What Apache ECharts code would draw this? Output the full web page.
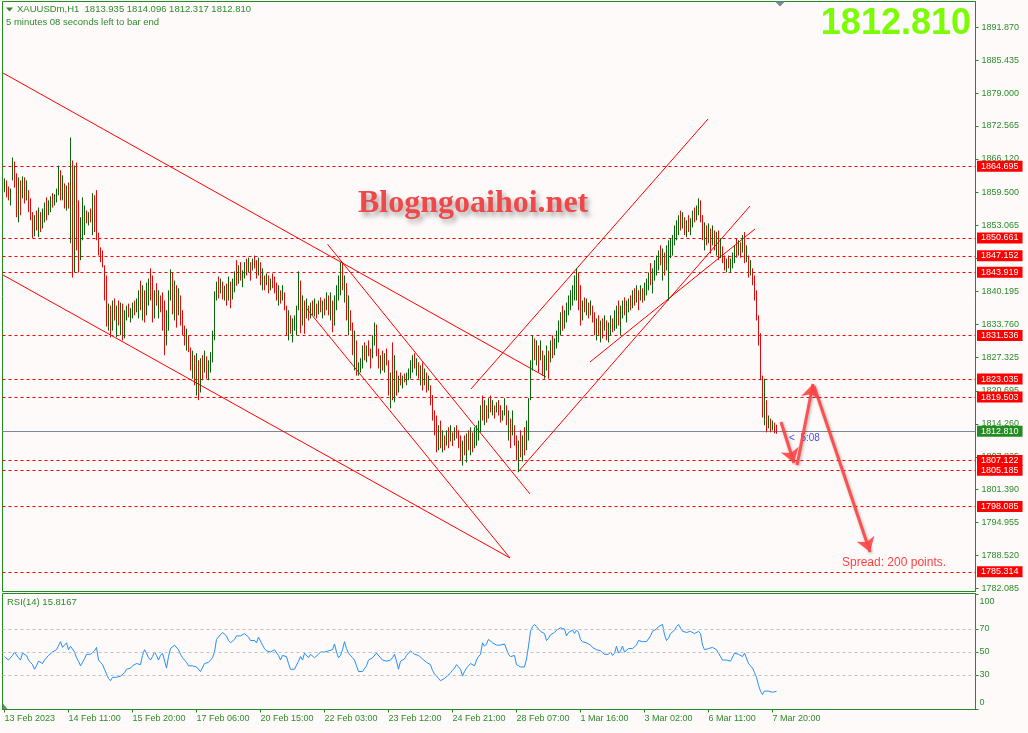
<!DOCTYPE html>
<html><head><meta charset="utf-8">
<script src="https://cdn.jsdelivr.net/npm/echarts@6/dist/echarts.min.js"></script>
<style>html,body{margin:0;padding:0;background:#fffafa}#c{width:1028px;height:733px}</style>
</head><body><div id="c"></div>
<script>
// ---------------- DATA ----------------
const highs = [
1862.3,1861.9,1860.7,1860.3,1866.4,1865.6,1863.3,1862.5,1861.9,1862.7,
1862.5,1861.9,1860.0,1858.4,1855.7,1855.1,1856.0,1856.6,1855.7,1856.4,
1857.6,1858.6,1858.0,1858.8,1859.4,1859.2,1860.3,1864.8,1863.9,1862.9,
1861.3,1860.9,1861.5,1870.3,1865.8,1864.8,1865.4,1858.0,1854.7,1858.6,
1857.0,1856.0,1855.7,1856.4,1859.4,1859.0,1860.0,1851.7,1848.8,1848.2,
1845.3,1843.3,1837.8,1837.4,1838.4,1838.8,1837.4,1838.4,1838.0,1837.8,
1836.5,1837.4,1837.8,1836.9,1838.0,1838.4,1838.8,1840.4,1842.3,1841.4,
1840.4,1841.9,1842.7,1844.7,1843.3,1840.4,1841.8,1840.4,1839.4,1840.0,
1838.4,1836.5,1840.4,1844.5,1843.9,1842.3,1841.4,1840.8,1839.4,1836.5,
1833.5,1832.9,1831.6,1829.2,1828.6,1827.7,1828.1,1826.7,1827.1,1827.7,
1828.6,1827.5,1826.7,1828.3,1832.5,1840.2,1842.1,1843.1,1842.7,1842.1,
1841.3,1841.7,1843.1,1842.1,1842.7,1844.1,1846.3,1845.3,1845.9,1844.3,
1845.9,1846.6,1846.8,1845.9,1846.6,1847.2,1846.3,1846.8,1845.9,1844.7,
1843.3,1843.7,1843.3,1842.7,1843.7,1843.1,1841.9,1841.4,1840.4,1841.4,
1840.0,1837.4,1836.5,1835.5,1834.9,1835.5,1837.4,1844.1,1842.3,1839.4,
1838.4,1838.8,1837.4,1838.0,1838.4,1838.8,1837.8,1838.4,1839.0,1838.4,
1838.8,1840.0,1839.4,1840.0,1838.4,1839.4,1841.4,1843.3,1845.9,1845.9,
1843.3,1841.8,1839.4,1836.5,1834.1,1832.5,1830.6,1826.3,1827.1,1829.6,
1830.2,1829.6,1830.6,1829.0,1831.6,1834.1,1833.7,1829.0,1827.7,1828.6,
1828.1,1829.0,1826.7,1824.3,1830.2,1827.7,1824.7,1823.7,1824.3,1823.7,
1824.1,1824.3,1825.1,1826.7,1827.7,1828.1,1827.1,1826.3,1825.7,1826.3,
1825.1,1824.3,1823.7,1821.8,1819.9,1816.9,1815.9,1814.0,1814.9,1813.0,
1812.0,1813.0,1813.6,1814.0,1812.6,1813.6,1814.0,1813.0,1812.0,1811.0,
1812.0,1812.4,1813.0,1813.6,1812.6,1813.6,1814.0,1814.9,1817.9,1819.8,
1818.9,1817.9,1819.3,1819.8,1818.9,1817.9,1818.5,1818.9,1817.9,1816.9,
1819.3,1817.9,1816.9,1815.3,1816.9,1814.0,1812.0,1811.0,1813.0,1812.0,
1813.6,1814.9,1819.3,1826.7,1831.6,1831.0,1830.6,1829.6,1830.6,1828.6,
1827.7,1829.6,1828.6,1830.6,1831.6,1831.0,1832.5,1834.5,1836.1,1837.4,
1836.5,1838.0,1839.4,1840.4,1841.4,1843.3,1844.7,1843.9,1841.4,1838.4,
1839.0,1838.8,1838.0,1838.4,1837.4,1836.1,1834.9,1835.5,1834.5,1834.9,
1835.5,1834.5,1834.1,1835.5,1834.9,1836.5,1837.4,1838.4,1837.4,1838.4,
1839.0,1838.4,1838.8,1839.4,1840.4,1840.8,1841.4,1840.4,1841.4,1840.8,
1841.9,1842.7,1843.9,1845.7,1844.7,1846.3,1847.2,1848.2,1849.2,1848.6,
1847.8,1849.2,1850.2,1850.6,1851.2,1853.1,1854.1,1855.1,1856.0,1855.7,
1854.7,1854.1,1855.1,1854.5,1856.0,1856.6,1857.0,1858.4,1858.0,1855.1,
1853.7,1853.1,1853.5,1852.5,1853.1,1852.1,1851.8,1852.1,1850.6,1849.0,
1847.2,1846.6,1847.2,1846.6,1847.8,1849.2,1850.6,1850.2,1849.8,1851.2,
1851.8,1849.2,1847.2,1846.3,1844.7,1843.3,1840.4,1835.5,1832.0,1823.7,
1823.1,1818.9,1815.9,1815.3,1814.9,1814.5,1814.096];
const lows = [
1859.6,1858.6,1858.0,1857.0,1861.9,1860.5,1854.7,1853.7,1855.1,1858.4,
1857.4,1858.0,1855.7,1854.1,1850.6,1851.0,1852.1,1850.8,1851.8,1852.5,
1853.7,1854.1,1855.1,1855.7,1856.6,1857.0,1857.6,1859.0,1858.0,1858.0,
1856.4,1856.0,1856.4,1849.6,1842.9,1843.9,1848.2,1843.9,1846.3,1850.2,
1851.2,1853.5,1853.1,1853.7,1851.2,1851.8,1850.2,1847.2,1845.9,1844.9,
1838.4,1833.3,1832.5,1831.2,1832.5,1834.5,1831.2,1833.5,1831.6,1830.6,
1831.0,1834.5,1835.1,1834.1,1834.9,1835.5,1836.1,1834.9,1836.5,1834.5,
1834.1,1835.5,1837.4,1838.4,1834.1,1834.9,1837.4,1834.9,1836.1,1832.5,
1827.7,1829.6,1832.5,1838.4,1835.7,1834.5,1833.1,1835.5,1833.5,1831.6,
1829.6,1828.6,1828.3,1824.7,1823.1,1821.8,1819.8,1818.9,1820.4,1822.8,
1824.3,1823.1,1822.8,1824.3,1826.3,1830.6,1838.4,1838.8,1839.8,1838.6,
1838.4,1837.4,1838.4,1836.9,1838.6,1840.0,1841.3,1841.7,1842.3,1841.0,
1842.7,1843.3,1843.9,1842.3,1844.3,1844.7,1842.7,1843.3,1841.4,1840.4,
1840.4,1841.4,1839.8,1840.4,1840.8,1839.8,1838.4,1837.4,1837.8,1838.4,
1836.5,1831.6,1830.6,1831.9,1830.2,1832.5,1831.6,1836.5,1832.0,1833.5,
1831.9,1834.9,1834.5,1834.9,1835.5,1835.3,1834.9,1835.7,1836.1,1834.9,
1835.5,1836.5,1835.5,1834.5,1832.2,1833.5,1836.5,1838.4,1839.4,1840.4,
1838.0,1834.5,1831.6,1832.5,1827.7,1824.7,1823.7,1823.7,1824.3,1825.1,
1826.7,1826.3,1827.5,1825.1,1827.1,1829.6,1827.5,1825.1,1824.1,1824.7,
1824.3,1825.7,1819.8,1817.3,1818.9,1818.5,1819.8,1820.4,1821.8,1821.2,
1822.4,1821.8,1822.8,1823.1,1824.3,1825.1,1823.7,1823.1,1821.8,1820.8,
1821.8,1820.4,1820.8,1817.9,1814.9,1812.0,1808.7,1809.1,1809.5,1808.7,
1809.1,1810.0,1809.5,1810.8,1809.9,1811.0,1811.4,1809.5,1807.1,1806.1,
1808.1,1806.7,1809.1,1808.1,1808.7,1809.5,1810.0,1811.0,1812.6,1814.9,
1814.0,1814.5,1815.3,1816.5,1815.9,1815.3,1816.5,1815.9,1814.5,1814.9,
1815.9,1814.0,1811.0,1809.5,1812.0,1810.0,1807.1,1804.8,1807.7,1806.9,
1808.1,1809.1,1811.0,1818.9,1824.7,1826.7,1825.7,1824.3,1826.7,1823.7,
1823.1,1824.7,1823.1,1826.3,1827.1,1827.7,1829.0,1830.2,1831.6,1832.5,
1832.9,1834.1,1835.5,1836.5,1837.4,1838.4,1838.4,1836.5,1833.5,1834.5,
1836.1,1835.5,1834.9,1835.5,1834.1,1831.6,1830.6,1831.6,1830.2,1831.0,
1832.5,1830.6,1830.2,1831.6,1832.2,1832.5,1832.9,1833.5,1831.6,1834.9,
1835.5,1834.1,1836.1,1836.5,1836.9,1837.4,1838.0,1836.5,1838.4,1838.0,
1838.4,1839.4,1840.4,1841.4,1839.8,1842.3,1843.3,1844.3,1845.3,1842.3,
1843.3,1844.3,1838.4,1846.7,1847.2,1849.2,1850.2,1851.2,1852.1,1852.5,
1851.2,1850.8,1851.8,1851.2,1852.7,1853.7,1854.1,1855.1,1853.7,1850.2,
1848.2,1849.2,1849.6,1847.6,1849.2,1848.2,1847.2,1846.3,1846.7,1845.7,
1844.3,1843.9,1844.7,1843.9,1844.7,1845.7,1846.8,1847.2,1846.8,1847.8,
1845.7,1845.9,1842.9,1843.3,1841.4,1838.4,1834.5,1829.6,1822.8,1815.5,
1814.0,1812.6,1813.4,1812.6,1813.0,1812.4,1812.317];
const closes = [
1861.0,1859.2,1858.9,1859.8,1865.2,1861.3,1856.0,1860.9,1860.0,1861.5,
1858.5,1860.2,1856.3,1855.0,1851.9,1853.6,1852.9,1855.4,1853.0,1855.2,
1856.8,1855.6,1857.4,1858.1,1857.5,1858.7,1859.9,1863.6,1859.3,1861.8,
1857.2,1859.6,1857.8,1863.5,1845.0,1862.7,1850.1,1847.0,1852.6,1854.0,
1855.3,1854.1,1855.2,1854.5,1858.2,1853.1,1851.4,1848.1,1846.7,1845.6,
1839.7,1834.6,1836.9,1832.4,1837.5,1835.8,1836.2,1834.3,1837.1,1831.8,
1835.6,1836.8,1835.9,1836.3,1837.2,1836.4,1838.0,1839.6,1837.2,1840.5,
1835.0,1841.0,1842.0,1839.5,1835.2,1839.6,1838.1,1839.0,1837.0,1833.6,
1829.5,1835.8,1839.8,1843.1,1836.8,1841.0,1834.2,1839.5,1834.6,1832.4,
1830.5,1831.7,1829.0,1825.6,1827.4,1822.9,1826.8,1819.7,1826.2,1823.6,
1827.9,1824.0,1825.9,1827.4,1831.2,1839.4,1841.2,1839.6,1841.9,1839.5,
1840.6,1838.2,1842.4,1837.8,1841.9,1843.4,1842.2,1844.6,1843.1,1843.5,
1845.1,1844.0,1846.1,1843.2,1845.8,1845.3,1843.6,1846.0,1842.3,1843.8,
1841.2,1842.9,1840.7,1842.1,1841.5,1840.2,1839.0,1840.6,1838.5,1840.3,
1837.2,1832.8,1835.4,1832.6,1833.8,1834.7,1836.6,1838.0,1834.1,1838.6,
1833.0,1837.7,1835.2,1837.3,1836.2,1838.0,1835.8,1837.6,1836.9,1837.9,
1836.4,1839.2,1836.3,1839.1,1833.4,1838.7,1840.8,1842.6,1845.0,1841.2,
1842.5,1835.6,1838.2,1833.4,1828.9,1831.4,1824.8,1825.9,1826.5,1828.8,
1827.5,1828.9,1828.3,1828.2,1830.9,1833.2,1828.6,1826.2,1827.1,1825.6,
1827.5,1826.4,1821.0,1823.6,1820.2,1822.9,1821.3,1823.1,1822.6,1823.3,
1823.0,1824.0,1824.6,1826.0,1827.2,1825.9,1826.5,1824.0,1825.2,1821.9,
1824.5,1821.2,1822.6,1818.6,1815.8,1812.9,1810.1,1813.2,1810.3,1812.1,
1810.2,1812.4,1810.6,1813.3,1811.2,1812.8,1812.0,1810.4,1808.0,1810.2,
1808.9,1811.5,1810.0,1812.8,1809.6,1812.9,1813.4,1814.2,1817.0,1815.6,
1818.1,1815.2,1818.8,1817.2,1818.0,1816.2,1817.9,1816.4,1815.1,1816.5,
1818.6,1814.6,1815.8,1810.4,1815.9,1810.8,1808.2,1810.1,1808.5,1811.3,
1809.4,1814.0,1818.6,1826.0,1830.8,1827.6,1829.9,1825.1,1829.8,1824.6,
1826.9,1828.8,1824.0,1829.9,1828.0,1830.4,1831.8,1833.9,1835.3,1833.6,
1835.9,1837.2,1838.8,1839.7,1840.6,1842.5,1843.8,1837.4,1835.0,1837.6,
1836.8,1838.1,1835.7,1837.3,1834.8,1832.5,1833.9,1832.3,1833.8,1832.0,
1834.8,1831.5,1833.6,1834.9,1833.0,1835.8,1836.5,1834.2,1836.9,1837.7,
1836.2,1837.8,1838.3,1837.2,1839.9,1838.1,1840.7,1839.0,1840.2,1839.3,
1841.3,1842.0,1843.1,1842.4,1844.0,1845.6,1846.5,1847.4,1846.0,1847.9,
1844.4,1848.6,1849.5,1850.0,1850.6,1852.4,1853.5,1854.3,1853.0,1854.9,
1852.0,1853.4,1852.6,1854.0,1855.5,1854.4,1856.3,1857.6,1854.8,1851.0,
1852.9,1850.0,1852.7,1848.5,1852.4,1849.0,1851.1,1847.2,1849.8,1846.5,
1845.0,1846.0,1845.3,1846.1,1847.3,1848.8,1847.6,1849.7,1848.0,1850.7,
1846.6,1848.3,1843.8,1845.2,1842.0,1839.1,1835.2,1830.4,1823.9,1816.7,
1820.6,1813.8,1815.4,1814.2,1814.5,1813.9,1812.810];
const firstOpen = 1860.4;
const rsi = [
46,45,43,43,47,50,51,45,43,49,
50,47,43,41,39,35,38,42,41,40,
43,45,47,48,50,51,52,53,59,54,
56,58,52,55,54,50,45,42,38,41,
44,48,47,48,49,51,54,43,41,39,
35,31,27,25,28,29,28,28,29,30,
32,35,36,36,38,39,40,40,39,47,
52,49,45,43,46,50,47,43,47,49,
49,36,46,53,53,56,55,52,48,45,
43,41,38,38,38,37,37,36,33,34,
40,41,41,42,45,50,61,63,65,67,
66,64,60,58,59,61,64,64,64,64,
66,67,63,60,61,60,58,63,62,56,
53,51,50,50,51,52,53,47,43,47,
47,46,40,35,35,35,34,42,46,43,
49,48,45,48,48,45,46,48,50,51,
50,50,51,51,52,57,50,45,47,52,
59,53,49,47,45,43,38,33,33,33,
34,38,43,44,45,46,49,50,45,43,
42,42,42,43,45,48,42,35,42,42,
44,47,49,51,50,48,48,47,46,44,
43,41,40,39,34,31,29,27,25,26,
27,28,30,32,34,36,39,38,35,29,
33,36,38,40,39,38,43,46,48,58,
55,57,61,60,58,57,56,56,56,56,
57,56,48,46,47,47,39,38,37,36,
37,44,55,68,72,74,72,70,68,67,
66,60,62,65,66,67,69,70,71,71,
70,64,67,68,69,66,69,67,61,59,
58,58,57,56,54,53,52,51,51,50,
48,47,48,50,47,49,55,49,51,55,
50,50,53,53,53,54,56,60,60,59,
59,59,59,64,68,69,70,72,73,74,
65,60,62,66,67,69,72,74,73,68,
67,67,68,68,67,66,65,68,66,56,
52,51,53,54,54,53,52,49,46,43,
42,43,43,42,42,49,50,48,47,46,
49,48,40,38,36,32,28,21,16,13,
16,17,16,15,15,16,15.8167];

const priceTicks = [1891.870,1885.435,1879.000,1872.565,1866.120,1859.500,1853.065,1846.630,1840.195,
  1833.760,1827.325,1820.695,1814.260,1807.825,1801.390,1794.955,1788.520,1782.085];
const rsiTicks = [0,30,50,70,100];
const rsiLevels = [30,50,70];
const timeTickIdx = [0,32,64,96,128,160,192,224,256,288,320,352,384];
const timeTickLabels = ['13 Feb 2023','14 Feb 11:00','15 Feb 20:00','17 Feb 06:00','20 Feb 15:00','22 Feb 03:00',
  '23 Feb 12:00','24 Feb 21:00','28 Feb 07:00','1 Mar 16:00','3 Mar 02:00','6 Mar 11:00','7 Mar 20:00'];
const levels = [1864.695,1850.661,1847.152,1843.919,1831.536,1823.035,1819.503,1807.122,1805.185,1798.085,1785.314];
const bid = 1812.810;
// trend lines: [barIndex, price] pairs
const trendLines = [
  [[-0.75,1882.93],[270.75,1823.44]],
  [[-0.75,1843.40],[252.75,1788.02]],
  [[151.25,1836.74],[252.75,1788.02]],
  [[161.55,1849.40],[262.75,1800.54]],
  [[233.25,1821.09],[351.75,1873.93]],
  [[256.75,1804.85],[372.75,1856.90]],
  [[292.75,1826.37],[375.25,1852.40]]
];
const arrows = [
  [[388.25,1814.63],[394.75,1806.61]],
  [[396.25,1806.22],[404.25,1822.07]],
  [[404.75,1821.67],[432.75,1789.19]]
];
const notes = [
  {pos:[392.25,1811.5], text:'<  5:08', color:'#1414ff', size:10},
  {pos:[418.75,1787.04], text:'Spread: 200 points.', color:'#ff1010', size:12}
];

// ---------------- CHART ----------------
const GREEN = '#2a8c2a';
const FONT = 'Liberation Sans';
const barData = highs.map((h, i) => {
  const open = i ? closes[i - 1] : firstOpen;
  return [i, h, lows[i], closes[i] >= open ? 1 : 0];
});
const chart = echarts.init(document.getElementById('c'), null, {renderer: 'canvas'});
const boxLabel = (txt, bg) => ({
  show: true, position: 'end', distance: 1.5, formatter: txt,
  backgroundColor: bg, color: '#ffffff', fontFamily: FONT, fontSize: 9,
  padding: [1, 4, 1, 4], lineHeight: 9
});
const levelLines = levels.map(v => ({
  yAxis: v, lineStyle: {color: '#ff0000', type: [3, 3], width: 1},
  label: boxLabel(v.toFixed(3), '#ff0000')
}));
levelLines.push({yAxis: bid, lineStyle: {color: '#7a8899', type: 'solid', width: 1},
  label: boxLabel(bid.toFixed(3), '#228b22')});

chart.setOption({
  animation: false,
  backgroundColor: '#fffafa',
  grid: [
    {left: 2.5, top: 1.5, width: 973, height: 590, show: true, borderColor: '#228b22', borderWidth: 1, containLabel: false},
    {left: 2.5, top: 593.5, width: 973, height: 116, show: true, borderColor: '#228b22', borderWidth: 1, containLabel: false}
  ],
  xAxis: [
    {type: 'value', gridIndex: 0, min: -1, max: 485.5, show: false, axisLine: {onZero: false}},
    {type: 'value', gridIndex: 1, min: -1, max: 485.5,
      axisLine: {show: true, onZero: false, lineStyle: {color: '#228b22'}},
      axisTick: {show: true, length: 3, customValues: timeTickIdx, lineStyle: {color: '#228b22'}},
      splitLine: {show: false},
      axisLabel: {customValues: timeTickIdx, align: 'left', margin: 5, color: GREEN, fontFamily: FONT, fontSize: 9,
        formatter: v => timeTickLabels[timeTickIdx.indexOf(Math.round(v))] || ''}}
  ],
  yAxis: [
    {type: 'value', gridIndex: 0, position: 'right', min: 1781.46, max: 1896.92, scale: true,
      axisLine: {show: true, onZero: false, lineStyle: {color: '#228b22'}},
      axisTick: {show: true, length: 3, customValues: priceTicks, lineStyle: {color: '#228b22'}},
      splitLine: {show: false},
      axisLabel: {customValues: priceTicks, margin: 6, color: GREEN, fontFamily: FONT, fontSize: 9,
        formatter: v => v.toFixed(3)}},
    {type: 'value', gridIndex: 1, position: 'right', min: 0, max: 100.87,
      axisLine: {show: true, onZero: false, lineStyle: {color: '#228b22'}},
      axisTick: {show: true, length: 3, customValues: rsiTicks, lineStyle: {color: '#228b22'}},
      splitLine: {show: false},
      axisLabel: {customValues: rsiTicks, margin: 4, color: GREEN, fontFamily: FONT, fontSize: 9,
        formatter: v => v === 100 ? '{t|100}' : (v === 0 ? '{b|0}' : String(v)),
        rich: {
          t: {color: GREEN, fontFamily: FONT, fontSize: 9, padding: [14, 0, 0, 0]},
          b: {color: GREEN, fontFamily: FONT, fontSize: 9, padding: [0, 0, 13, 0]}
        }}}
  ],
  series: [
    {
      type: 'custom', name: 'bars', xAxisIndex: 0, yAxisIndex: 0, data: barData, clip: true, z: 4,
      encode: {x: 0, y: [1, 2]},
      renderItem: (params, api) => {
        const x = api.value(0);
        const a = api.coord([x, api.value(1)]);
        const b = api.coord([x, api.value(2)]);
        return {type: 'line', shape: {x1: a[0], y1: a[1], x2: b[0], y2: Math.max(b[1], a[1] + 1)},
          style: {stroke: api.value(3) ? '#0a640a' : '#e00c0c', lineWidth: 1}};
      },
      markLine: {silent: true, symbol: ['none', 'none'], animation: false, z: 2, data: levelLines}
    },
    {
      type: 'lines', name: 'trend', coordinateSystem: 'cartesian2d', xAxisIndex: 0, yAxisIndex: 0, z: 3,
      data: trendLines.map(c => ({coords: c})),
      lineStyle: {color: '#ff0000', width: 1, opacity: 1}, symbol: ['none', 'none'], silent: true
    },
    {
      type: 'scatter', name: 'notes', xAxisIndex: 0, yAxisIndex: 0, symbolSize: 0, silent: true, z: 5,
      data: notes.map(n => ({value: n.pos, label: {show: true, position: 'right', distance: 0, formatter: n.text,
        color: n.color, fontFamily: FONT, fontSize: n.size}}))
    },
    {
      type: 'lines', name: 'arrows', coordinateSystem: 'cartesian2d', xAxisIndex: 0, yAxisIndex: 0, z: 8,
      data: arrows.map(c => ({coords: c})), silent: true,
      lineStyle: {color: '#ff4646', width: 3, opacity: 0.92, shadowBlur: 3, shadowColor: 'rgba(0,0,0,0.35)', shadowOffsetX: 1, shadowOffsetY: 1},
      symbol: ['none', 'arrow'], symbolSize: [11, 14]
    },
    {
      type: 'line', name: 'RSI', xAxisIndex: 1, yAxisIndex: 1, showSymbol: false, silent: true,
      data: rsi.map((v, i) => [i, v]), lineStyle: {color: '#1e90ff', width: 1}, itemStyle: {color: '#1e90ff'},
      markLine: {silent: true, symbol: ['none', 'none'], label: {show: false},
        data: rsiLevels.map(v => ({yAxis: v, lineStyle: {color: '#c0c0c0', type: [3, 3], width: 1}}))}
    }
  ],
  graphic: [
    {type: 'polygon', shape: {points: [[6, 7.5], [13, 7.5], [9.5, 11.5]]}, style: {fill: GREEN}, silent: true},
    {type: 'polygon', shape: {points: [[775, 1.5], [785, 1.5], [780, 6.5]]}, style: {fill: '#778899'}, silent: true},
    {type: 'polygon', shape: {points: [[3, 703.5], [3, 709.5], [8, 709.5]]}, style: {fill: '#808080'}, silent: true},
    {type: 'text', x: 17, y: 9.5, silent: true,
      style: {text: 'XAUUSDm,H1  1813.935 1814.096 1812.317 1812.810', fill: GREEN, font: '9.5px "Liberation Sans"',
        align: 'left', verticalAlign: 'middle', textAlign: 'left', textVerticalAlign: 'middle'}},
    {type: 'text', x: 6, y: 22.5, silent: true,
      style: {text: '5 minutes 08 seconds left to bar end', fill: GREEN, font: '9.5px "Liberation Sans"',
        align: 'left', verticalAlign: 'middle', textAlign: 'left', textVerticalAlign: 'middle'}},
    {type: 'text', x: 971, y: 24, silent: true,
      style: {text: '1812.810', fill: '#7cfc00', font: 'bold 36px "Liberation Sans"',
        align: 'right', verticalAlign: 'middle', textAlign: 'right', textVerticalAlign: 'middle'}},
    {type: 'text', x: 358, y: 203.5, silent: true,
      style: {text: 'Blogngoaihoi.net', fill: '#f04848', font: 'bold 32px "Liberation Serif"',
        align: 'left', verticalAlign: 'middle', textAlign: 'left', textVerticalAlign: 'middle',
        textShadowColor: 'rgba(0,0,0,0.35)', textShadowBlur: 5, textShadowOffsetX: 3, textShadowOffsetY: 4,
        shadowColor: 'rgba(0,0,0,0.35)', shadowBlur: 5, shadowOffsetX: 3, shadowOffsetY: 4}},
    {type: 'text', x: 7, y: 602.5, silent: true,
      style: {text: 'RSI(14) 15.8167', fill: GREEN, font: '9.5px "Liberation Sans"',
        align: 'left', verticalAlign: 'middle', textAlign: 'left', textVerticalAlign: 'middle'}}
  ]
});
</script></body></html>
